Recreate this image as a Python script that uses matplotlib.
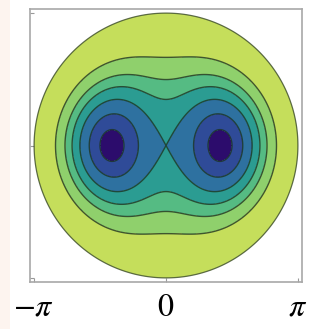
import numpy as np
import matplotlib
matplotlib.use("Agg")
import matplotlib.pyplot as plt
from matplotlib.patches import Circle, Rectangle

plt.rcParams["mathtext.fontset"] = "stix"

# Mean-field energy on the Bloch sphere, shown in an azimuthal equidistant
# projection (disk radius = pi, centre = north pole).
coupling_x = 1.0        # strength of the n_x^2 term
coupling_y = 0.05       # strength of the n_y^2 term
field_z = 0.27          # strength of the n_z term
disk_radius = np.pi

# Contour levels of the energy
levels = [-0.50, -0.40, -0.27, -0.144, -0.027, 0.115]
band_colors = ["#2c0c6c", "#2f4b98", "#2e71a0", "#2b9c92",
               "#55bb83", "#8fd06c", "#c5de5b"]

tick_values = [-np.pi, 0.0, np.pi]
tick_labels = [r"$-\pi$", r"$0$", r"$\pi$"]

n = 700
axis = np.linspace(-disk_radius, disk_radius, n)
X, Y = np.meshgrid(axis, axis)
r = np.hypot(X, Y)
phi = np.arctan2(Y, X)
nx = np.sin(r) * np.cos(phi)
ny = np.sin(r) * np.sin(phi)
nz = np.cos(r)
energy = -0.5 * coupling_x * nx**2 - 0.5 * coupling_y * ny**2 - field_z * nz
energy_in = np.where(r <= disk_radius, energy, np.nan)

fig = plt.figure(figsize=(3.34, 3.29), dpi=100)
fig.patches.append(Rectangle((0, 0), 10 / 334, 1, transform=fig.transFigure,
                             facecolor="#fdf4ef", edgecolor="none", zorder=-1))
ax = fig.add_axes([30 / 334, 47 / 329, 272 / 334, 273 / 329])

bounds = [np.nanmin(energy) - 1] + levels + [np.nanmax(energy) + 1]
disk = Circle((0, 0), disk_radius, transform=ax.transData)
cf = ax.contourf(X, Y, energy, levels=bounds, colors=band_colors)
cf.set_clip_path(disk)
ax.contour(X, Y, energy_in, levels=levels, colors="#1d3323",
           linewidths=1.0, alpha=0.8, linestyles="solid")
ax.contour(X, Y, r, levels=[disk_radius * 0.999], colors="#3a4a2a",
           linewidths=0.9, alpha=0.8, linestyles="solid")

lim = disk_radius * 1.03
ax.set_xlim(-lim, lim)
ax.set_ylim(-lim, lim)
ax.set_aspect("auto")

ax.set_xticks(tick_values)
ax.set_xticklabels(tick_labels, fontsize=23)
ax.set_yticks(tick_values)
ax.set_yticklabels([])
ax.tick_params(direction="in", length=3, width=0.8, color="#999999", pad=7,
               top=False, right=False)
for s in ax.spines.values():
    s.set_color("#a8a8a8")
    s.set_linewidth(1.2)

fig.savefig("out.png", dpi=100)
